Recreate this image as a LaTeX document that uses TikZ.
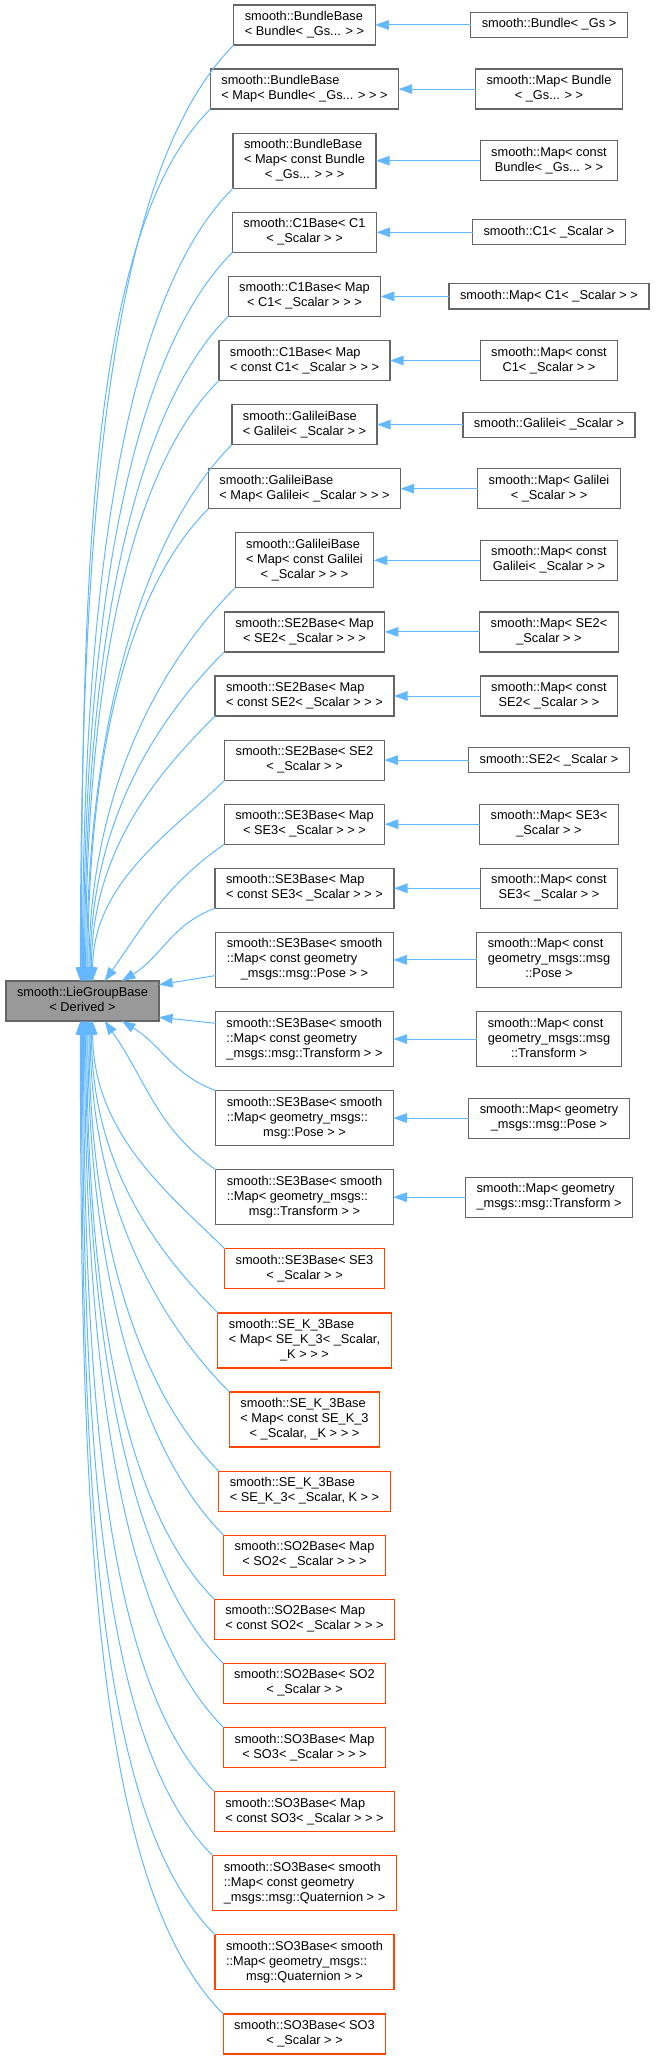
\documentclass[tikz,border=0pt]{standalone}
\usepackage{fontspec}
\setmainfont{Liberation Sans}
\usepackage{xcolor}
\usepackage{tikz}
\usetikzlibrary{positioning,arrows.meta}

\definecolor{edgeblue}{HTML}{63B8FF}
\definecolor{boxgray}{HTML}{666666}
\definecolor{rootgray}{HTML}{999999}
\definecolor{truncred}{HTML}{FF4500}
\newcommand{\boxtext}[1]{\begin{tabular}{@{}l@{}}#1\end{tabular}}
\newcommand{\lastc}[1]{\multicolumn{1}{@{}c@{}}{#1}}

\begin{document}
\begin{tikzpicture}[x=0.5pt, y=0.5pt, node distance=12.05pt]
      \tikzset{block/.style={rectangle, draw=boxgray, line width=0.6pt, fill=white, inner xsep=5.5pt, inner ysep=2.5pt, outer sep=0pt, font=\fontsize{6.4}{7.5}\selectfont}}
      \tikzset{redblock/.style={block, draw=truncred}}
      \tikzset{rootblock/.style={block, fill=rootgray}}
      \tikzset{inh/.style={draw=edgeblue, line width=0.5pt, -{Triangle[length=6.8pt,width=4.8pt]}}}
      \useasboundingbox (0,0) rectangle (655,-2060);
      \coordinate (rcol) at (549,0);
      \node[rootblock] (liegroup) at (82.5,-1001) {\boxtext{smooth::LieGroupBase\\\lastc{< Derived >}}};
      \node[block] (bundleb) at (304.5,-25) {\boxtext{smooth::BundleBase\\\lastc{< Bundle< \_Gs... > >}}};
      \node[block, below=of bundleb] (mbundleb) {\boxtext{smooth::BundleBase\\\lastc{< Map< Bundle< \_Gs... > > >}}};
      \node[block, below=of mbundleb] (mcbundleb) {\boxtext{smooth::BundleBase\\< Map< const Bundle\\\lastc{< \_Gs... > > >}}};
      \node[block, below=of mcbundleb] (c1b) {\boxtext{smooth::C1Base< C1\\\lastc{< \_Scalar > >}}};
      \node[block, below=of c1b] (mc1b) {\boxtext{smooth::C1Base< Map\\\lastc{< C1< \_Scalar > > >}}};
      \node[block, below=of mc1b] (mcc1b) {\boxtext{smooth::C1Base< Map\\\lastc{< const C1< \_Scalar > > >}}};
      \node[block, below=of mcc1b] (galb) {\boxtext{smooth::GalileiBase\\\lastc{< Galilei< \_Scalar > >}}};
      \node[block, below=of galb] (mgalb) {\boxtext{smooth::GalileiBase\\\lastc{< Map< Galilei< \_Scalar > > >}}};
      \node[block, below=of mgalb] (mcgalb) {\boxtext{smooth::GalileiBase\\< Map< const Galilei\\\lastc{< \_Scalar > > >}}};
      \node[block, below=of mcgalb] (mse2b) {\boxtext{smooth::SE2Base< Map\\\lastc{< SE2< \_Scalar > > >}}};
      \node[block, below=of mse2b] (mcse2b) {\boxtext{smooth::SE2Base< Map\\\lastc{< const SE2< \_Scalar > > >}}};
      \node[block, below=of mcse2b] (se2b) {\boxtext{smooth::SE2Base< SE2\\\lastc{< \_Scalar > >}}};
      \node[block, below=of se2b] (mse3b) {\boxtext{smooth::SE3Base< Map\\\lastc{< SE3< \_Scalar > > >}}};
      \node[block, below=of mse3b] (mcse3b) {\boxtext{smooth::SE3Base< Map\\\lastc{< const SE3< \_Scalar > > >}}};
      \node[block, below=of mcse3b] (mcposeb) {\boxtext{smooth::SE3Base< smooth\\::Map< const geometry\\\lastc{\_msgs::msg::Pose > >}}};
      \node[block, below=of mcposeb] (mctfb) {\boxtext{smooth::SE3Base< smooth\\::Map< const geometry\\\lastc{\_msgs::msg::Transform > >}}};
      \node[block, below=of mctfb] (mposeb) {\boxtext{smooth::SE3Base< smooth\\::Map< geometry\_msgs::\\\lastc{msg::Pose > >}}};
      \node[block, below=of mposeb] (mtfb) {\boxtext{smooth::SE3Base< smooth\\::Map< geometry\_msgs::\\\lastc{msg::Transform > >}}};
      \node[redblock, below=of mtfb] (se3b) {\boxtext{smooth::SE3Base< SE3\\\lastc{< \_Scalar > >}}};
      \node[redblock, below=of se3b] (mse3kb) {\boxtext{smooth::SE\_K\_3Base\\< Map< SE\_K\_3< \_Scalar,\\\lastc{\_K > > >}}};
      \node[redblock, below=of mse3kb] (mcse3kb) {\boxtext{smooth::SE\_K\_3Base\\< Map< const SE\_K\_3\\\lastc{< \_Scalar, \_K > > >}}};
      \node[redblock, below=of mcse3kb] (se3kb) {\boxtext{smooth::SE\_K\_3Base\\\lastc{< SE\_K\_3< \_Scalar, K > >}}};
      \node[redblock, below=of se3kb] (mso2b) {\boxtext{smooth::SO2Base< Map\\\lastc{< SO2< \_Scalar > > >}}};
      \node[redblock, below=of mso2b] (mcso2b) {\boxtext{smooth::SO2Base< Map\\\lastc{< const SO2< \_Scalar > > >}}};
      \node[redblock, below=of mcso2b] (so2b) {\boxtext{smooth::SO2Base< SO2\\\lastc{< \_Scalar > >}}};
      \node[redblock, below=of so2b] (mso3b) {\boxtext{smooth::SO3Base< Map\\\lastc{< SO3< \_Scalar > > >}}};
      \node[redblock, below=of mso3b] (mcso3b) {\boxtext{smooth::SO3Base< Map\\\lastc{< const SO3< \_Scalar > > >}}};
      \node[redblock, below=of mcso3b] (mcquatb) {\boxtext{smooth::SO3Base< smooth\\::Map< const geometry\\\lastc{\_msgs::msg::Quaternion > >}}};
      \node[redblock, below=of mcquatb] (mquatb) {\boxtext{smooth::SO3Base< smooth\\::Map< geometry\_msgs::\\\lastc{msg::Quaternion > >}}};
      \node[redblock, below=of mquatb] (so3b) {\boxtext{smooth::SO3Base< SO3\\\lastc{< \_Scalar > >}}};
      \node[block] (bundle) at (bundleb -| rcol) {\boxtext{smooth::Bundle< \_Gs >}};
      \node[block] (mbundle) at (mbundleb -| rcol) {\boxtext{smooth::Map< Bundle\\\lastc{< \_Gs... > >}}};
      \node[block] (mcbundle) at (mcbundleb -| rcol) {\boxtext{smooth::Map< const\\\lastc{Bundle< \_Gs... > >}}};
      \node[block] (c1) at (c1b -| rcol) {\boxtext{smooth::C1< \_Scalar >}};
      \node[block] (mc1) at (mc1b -| rcol) {\boxtext{smooth::Map< C1< \_Scalar > >}};
      \node[block] (mcc1) at (mcc1b -| rcol) {\boxtext{smooth::Map< const\\\lastc{C1< \_Scalar > >}}};
      \node[block] (gal) at (galb -| rcol) {\boxtext{smooth::Galilei< \_Scalar >}};
      \node[block] (mgal) at (mgalb -| rcol) {\boxtext{smooth::Map< Galilei\\\lastc{< \_Scalar > >}}};
      \node[block] (mcgal) at (mcgalb -| rcol) {\boxtext{smooth::Map< const\\\lastc{Galilei< \_Scalar > >}}};
      \node[block] (mse2) at (mse2b -| rcol) {\boxtext{smooth::Map< SE2<\\\lastc{\_Scalar > >}}};
      \node[block] (mcse2) at (mcse2b -| rcol) {\boxtext{smooth::Map< const\\\lastc{SE2< \_Scalar > >}}};
      \node[block] (se2) at (se2b -| rcol) {\boxtext{smooth::SE2< \_Scalar >}};
      \node[block] (mse3) at (mse3b -| rcol) {\boxtext{smooth::Map< SE3<\\\lastc{\_Scalar > >}}};
      \node[block] (mcse3) at (mcse3b -| rcol) {\boxtext{smooth::Map< const\\\lastc{SE3< \_Scalar > >}}};
      \node[block] (mcpose) at (mcposeb -| rcol) {\boxtext{smooth::Map< const\\geometry\_msgs::msg\\\lastc{::Pose >}}};
      \node[block] (mctf) at (mctfb -| rcol) {\boxtext{smooth::Map< const\\geometry\_msgs::msg\\\lastc{::Transform >}}};
      \node[block] (mpose) at (mposeb -| rcol) {\boxtext{smooth::Map< geometry\\\lastc{\_msgs::msg::Pose >}}};
      \node[block] (mtf) at (mtfb -| rcol) {\boxtext{smooth::Map< geometry\\\lastc{\_msgs::msg::Transform >}}};
      \draw[inh] (bundle) -- (bundleb);
      \draw[inh] (mbundle) -- (mbundleb);
      \draw[inh] (mcbundle) -- (mcbundleb);
      \draw[inh] (c1) -- (c1b);
      \draw[inh] (mc1) -- (mc1b);
      \draw[inh] (mcc1) -- (mcc1b);
      \draw[inh] (gal) -- (galb);
      \draw[inh] (mgal) -- (mgalb);
      \draw[inh] (mcgal) -- (mcgalb);
      \draw[inh] (mse2) -- (mse2b);
      \draw[inh] (mcse2) -- (mcse2b);
      \draw[inh] (se2) -- (se2b);
      \draw[inh] (mse3) -- (mse3b);
      \draw[inh] (mcse3) -- (mcse3b);
      \draw[inh] (mcpose) -- (mcposeb);
      \draw[inh] (mctf) -- (mctfb);
      \draw[inh] (mpose) -- (mposeb);
      \draw[inh] (mtf) -- (mtfb);
      \draw[inh] (bundleb.south west) .. controls +(-124,-124) and +(0,468) .. (liegroup.96);
      \draw[inh] (mbundleb.south west) .. controls +(-117,-117) and +(0,436) .. (liegroup.93);
      \draw[inh] (mcbundleb.south west) .. controls +(-109,-109) and +(0,396) .. (liegroup.90);
      \draw[inh] (c1b.south west) .. controls +(-103,-103) and +(0,364) .. (liegroup.87);
      \draw[inh] (mc1b.south west) .. controls +(-96,-96) and +(0,332) .. (liegroup.84);
      \draw[inh] (mcc1b.south west) .. controls +(-90,-90) and +(0,300) .. (liegroup.81);
      \draw[inh] (galb.south west) .. controls +(-84,-84) and +(0,268) .. (liegroup.78);
      \draw[inh] (mgalb.south west) .. controls +(-77,-77) and +(0,236) .. (liegroup.75);
      \draw[inh] (mcgalb.south west) .. controls +(-69,-69) and +(0,196) .. (liegroup.72);
      \draw[inh] (mse2b.south west) .. controls +(-63,-63) and +(0,164) .. (liegroup.69);
      \draw[inh] (mcse2b.south west) .. controls +(-56,-56) and +(0,132) .. (liegroup.66);
      \draw[inh] (se2b.south west) .. controls +(-50,-50) and +(0,100) .. (liegroup.63);
      \draw[inh] (mse3b.south west) to[out=215, in=55] (liegroup.42);
      \draw[inh] (mcse3b.south west) to[out=200, in=31] (liegroup.27);
      \draw[inh] (mcposeb.190) -- (liegroup.12);
      \draw[inh] (mctfb.170) -- (liegroup.-12);
      \draw[inh] (mposeb.north west) to[out=160, in=-31] (liegroup.-27);
      \draw[inh] (mtfb.north west) to[out=145, in=-55] (liegroup.-42);
      \draw[inh] (se3b.north west) .. controls +(-53,53) and +(0,-114) .. (liegroup.297);
      \draw[inh] (mse3kb.north west) .. controls +(-59,59) and +(0,-146) .. (liegroup.294);
      \draw[inh] (mcse3kb.north west) .. controls +(-67,67) and +(0,-186) .. (liegroup.291);
      \draw[inh] (se3kb.north west) .. controls +(-75,75) and +(0,-225) .. (liegroup.288);
      \draw[inh] (mso2b.north west) .. controls +(-81,81) and +(0,-257) .. (liegroup.285);
      \draw[inh] (mcso2b.north west) .. controls +(-88,88) and +(0,-289) .. (liegroup.282);
      \draw[inh] (so2b.north west) .. controls +(-94,94) and +(0,-321) .. (liegroup.279);
      \draw[inh] (mso3b.north west) .. controls +(-101,101) and +(0,-353) .. (liegroup.276);
      \draw[inh] (mcso3b.north west) .. controls +(-107,107) and +(0,-386) .. (liegroup.273);
      \draw[inh] (mcquatb.north west) .. controls +(-114,114) and +(0,-418) .. (liegroup.270);
      \draw[inh] (mquatb.north west) .. controls +(-121,121) and +(0,-457) .. (liegroup.267);
      \draw[inh] (so3b.north west) .. controls +(-129,129) and +(0,-497) .. (liegroup.264);
\end{tikzpicture}
\end{document}
